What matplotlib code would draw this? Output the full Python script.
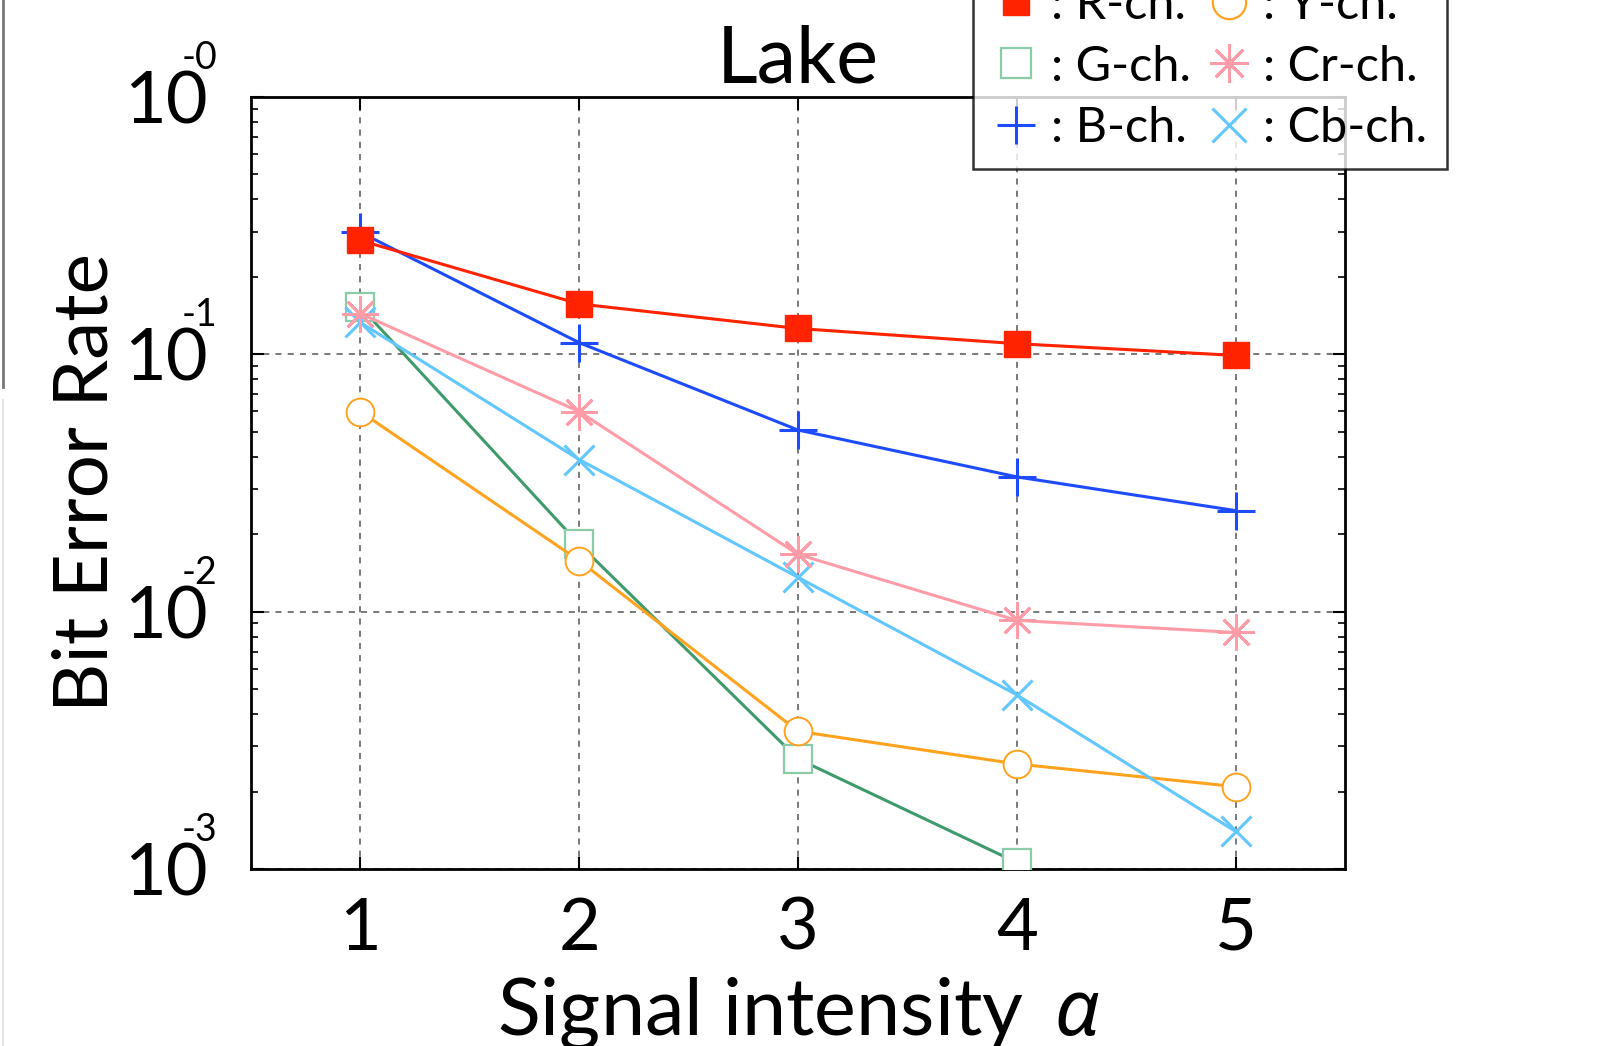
import matplotlib
matplotlib.use('Agg')
import matplotlib.pyplot as plt
from matplotlib.lines import Line2D

plt.rcParams['font.family'] = ['Lato', 'Noto Sans', 'DejaVu Sans']
plt.rcParams['mathtext.fontset'] = 'custom'
plt.rcParams['mathtext.rm'] = 'Noto Sans'
plt.rcParams['mathtext.it'] = 'Noto Sans:italic'

alpha = [1, 2, 3, 4, 5]
r_ch = [0.277, 0.157, 0.126, 0.110, 0.099]
g_alpha = [1, 2, 3, 4]  # G-ch. has no point at alpha=5 (below 1e-3)
g_ch = [0.153, 0.0183, 0.00268, 0.00106]
b_ch = [0.298, 0.111, 0.0508, 0.0334, 0.0247]
y_ch = [0.0599, 0.0158, 0.00343, 0.00256, 0.00209]
cr_ch = [0.144, 0.0599, 0.0167, 0.00925, 0.0083]
cb_ch = [0.133, 0.039, 0.0136, 0.00475, 0.0014]

yticks = [1e-3, 1e-2, 1e-1, 1e0]
ytick_exps = ['-3', '-2', '-1', '-0']

fig = plt.figure(figsize=(15.98, 10.46), dpi=100)
ax = fig.add_axes([0.157, 0.1692, 0.6847, 0.7381])

star = (8, 2, 0)
ax.plot(g_alpha, g_ch, '-', color='#3f9a6c', lw=2.2, marker='s', ms=20,
        mfc='white', mec='#8acba8', mew=1.6, zorder=3)
ax.plot(alpha, y_ch, '-', color='#ffa31f', lw=2.2, marker='o', ms=20,
        mfc='white', mec='#ffa31f', mew=1.4, zorder=3)
ax.plot(alpha, cb_ch, '-', color='#62c6ff', lw=2.2, marker='x', ms=22,
        mec='#62c6ff', mew=2.2, zorder=3)
ax.plot(alpha, cr_ch, '-', color='#ff9ca8', lw=2.2, marker=star, ms=26,
        mec='#ff9ca8', mew=2.0, zorder=3)
ax.plot(alpha, b_ch, '-', color='#1f4bff', lw=2.2, marker='+', ms=28,
        mec='#1f4bff', mew=2.2, zorder=4)
ax.plot(alpha, r_ch, '-', color='#ff2300', lw=2.2, marker='s', ms=19,
        mfc='#ff2300', mec='#ff2300', zorder=5)

ax.set_yscale('log')
ax.set_xlim(0.5, 5.5)
ax.set_ylim(1e-3, 1e0)
ax.set_xticks(alpha)
ax.set_yticks(yticks)
ax.set_yticklabels(['10'] * len(yticks))
ax.tick_params(which='both', direction='in', top=True, right=True)
ax.tick_params(which='major', length=9, width=1.5, labelsize=52)
ax.tick_params(axis='y', which='major', pad=31)
ax.tick_params(axis='x', which='major', pad=20)
ax.tick_params(which='minor', length=5, width=1.2)
ax.grid(True, which='major', linestyle=(0, (4, 4)), color='#555555', lw=1.1)
for s in ax.spines.values():
    s.set_linewidth(2)

# exponents drawn as small raised text next to each "10"
ytr = ax.get_yaxis_transform()
for yv, ex in zip(yticks, ytick_exps):
    ax.annotate(ex, xy=(0, yv), xycoords=ytr, xytext=(-50, 28),
                textcoords='offset points', ha='left', va='center',
                fontsize=27, annotation_clip=False)

ax.set_title('Lake', fontsize=57, pad=10)
ax.set_ylabel('Bit Error Rate', fontsize=55, labelpad=3)
ax.set_xlabel(r'Signal intensity $\,\alpha$', fontsize=57, labelpad=10)

handles = [
    Line2D([], [], ls='none', marker='s', ms=19, mfc='#ff2300', mec='#ff2300'),
    Line2D([], [], ls='none', marker='s', ms=22, mfc='white', mec='#8acba8', mew=1.6),
    Line2D([], [], ls='none', marker='+', ms=28, mec='#1f4bff', mew=2.2),
    Line2D([], [], ls='none', marker='o', ms=24, mfc='white', mec='#ffa31f', mew=1.6),
    Line2D([], [], ls='none', marker=star, ms=28, mec='#ff9ca8', mew=2.0),
    Line2D([], [], ls='none', marker='x', ms=24, mec='#62c6ff', mew=2.2),
]
labels = [': R-ch.', ': G-ch.', ': B-ch.', ': Y-ch.', ': Cr-ch.', ': Cb-ch.']
leg = fig.legend(handles, labels, ncol=2, loc='lower right',
                 bbox_to_anchor=(0.9055, 0.838), fontsize=35,
                 frameon=True, fancybox=False, edgecolor='black',
                 handlelength=1.0, handletextpad=0.2, columnspacing=0.3,
                 labelspacing=0.36, borderpad=0.4, borderaxespad=0)
leg.get_frame().set_linewidth(1.8)

# cropping remnants at the left edge
fig.add_artist(Line2D([0.002, 0.002], [1.0, 1 - 387 / 1046], color='#777777', lw=2))
fig.add_artist(Line2D([0.002, 0.002], [1 - 400 / 1046, 0.0], color='#e6e6e6', lw=1.5))

fig.savefig('out.png', dpi=100)
